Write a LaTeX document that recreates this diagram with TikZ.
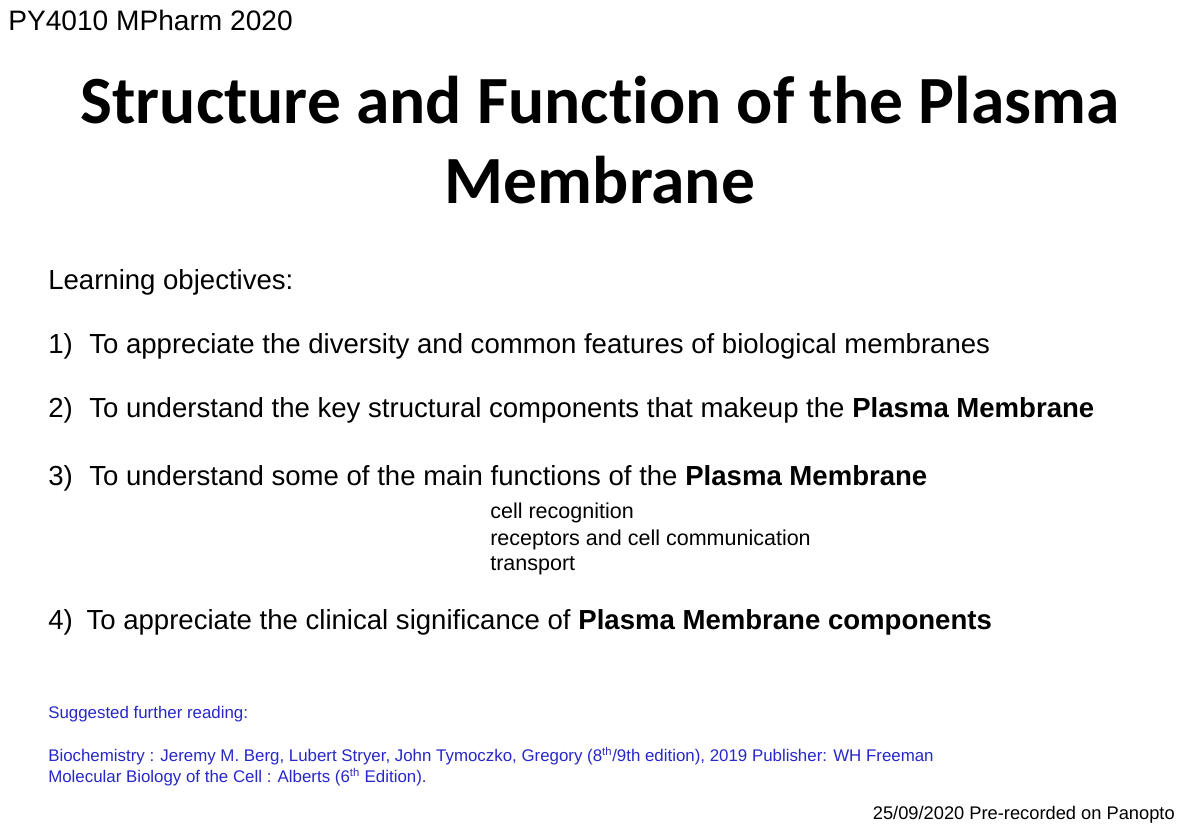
\documentclass[tikz,border=0pt]{standalone}
\usepackage{fontspec}
\setmainfont{Liberation Sans}
\newfontfamily\titlefont[Ligatures=NoCommon]{Carlito}
\usetikzlibrary{positioning}
\definecolor{readblue}{RGB}{40,40,200}
\tikzset{
  body/.style={anchor=west, inner sep=0pt, font=\fontsize{19.6}{23}\selectfont},
  subitem/.style={anchor=west, inner sep=0pt, font=\fontsize{15.3}{18}\selectfont},
  reading/.style={anchor=west, inner sep=0pt, text=readblue, font=\fontsize{12}{14}\selectfont}
}
\begin{document}
\begin{tikzpicture}[x=0.025cm,y=-0.025cm]
  \useasboundingbox[fill=white] (0,0) rectangle (1200,831);

  % header
  \node[anchor=west, inner sep=0pt, font=\fontsize{20}{24}\selectfont] (course) at (8,20) {PY4010 MPharm 2020};

  % title
  \node[font=\titlefont\bfseries\fontsize{48}{57}\selectfont, align=center] (title) at (600,140)
    {Structure and Function of the Plasma\\Membrane};

  % objectives
  \node[body] (lo) at (48,282) {Learning objectives:};
  \node[body] (obj1) at (48,346) {1)\hspace{0.6em}To appreciate the diversity and common features of biological membranes};
  \node[body] (obj2) at (48,410) {2)\hspace{0.6em}To understand the key structural components that makeup the \textbf{Plasma Membrane}};
  \node[body] (obj3) at (48,478) {3)\hspace{0.6em}To understand some of the main functions of the \textbf{Plasma Membrane}};
  \node[subitem] (sub1) at (490,513) {cell recognition};
  \node[subitem] (sub2) at (490,540) {receptors and cell communication};
  \node[subitem] (sub3) at (490,566) {transport};
  \node[body] (obj4) at (48,622) {4)\hspace{0.5em}To appreciate the clinical significance of \textbf{Plasma Membrane components}};

  % further reading
  \node[reading] (sugg) at (48,714) {Suggested further reading:};
  \node[reading] (book1) at (48,756) {Biochemistry : Jeremy M. Berg, Lubert Stryer, John Tymoczko, Gregory (8\textsuperscript{th}/9th edition), 2019 Publisher: WH Freeman};
  \node[reading] (book2) at (48,777) {Molecular Biology of the Cell : Alberts (6\textsuperscript{th} Edition).};

  % footer
  \node[anchor=east, inner sep=0pt, font=\fontsize{13}{15}\selectfont] (date) at (1175,815) {25/09/2020 Pre-recorded on Panopto};
\end{tikzpicture}
\end{document}
